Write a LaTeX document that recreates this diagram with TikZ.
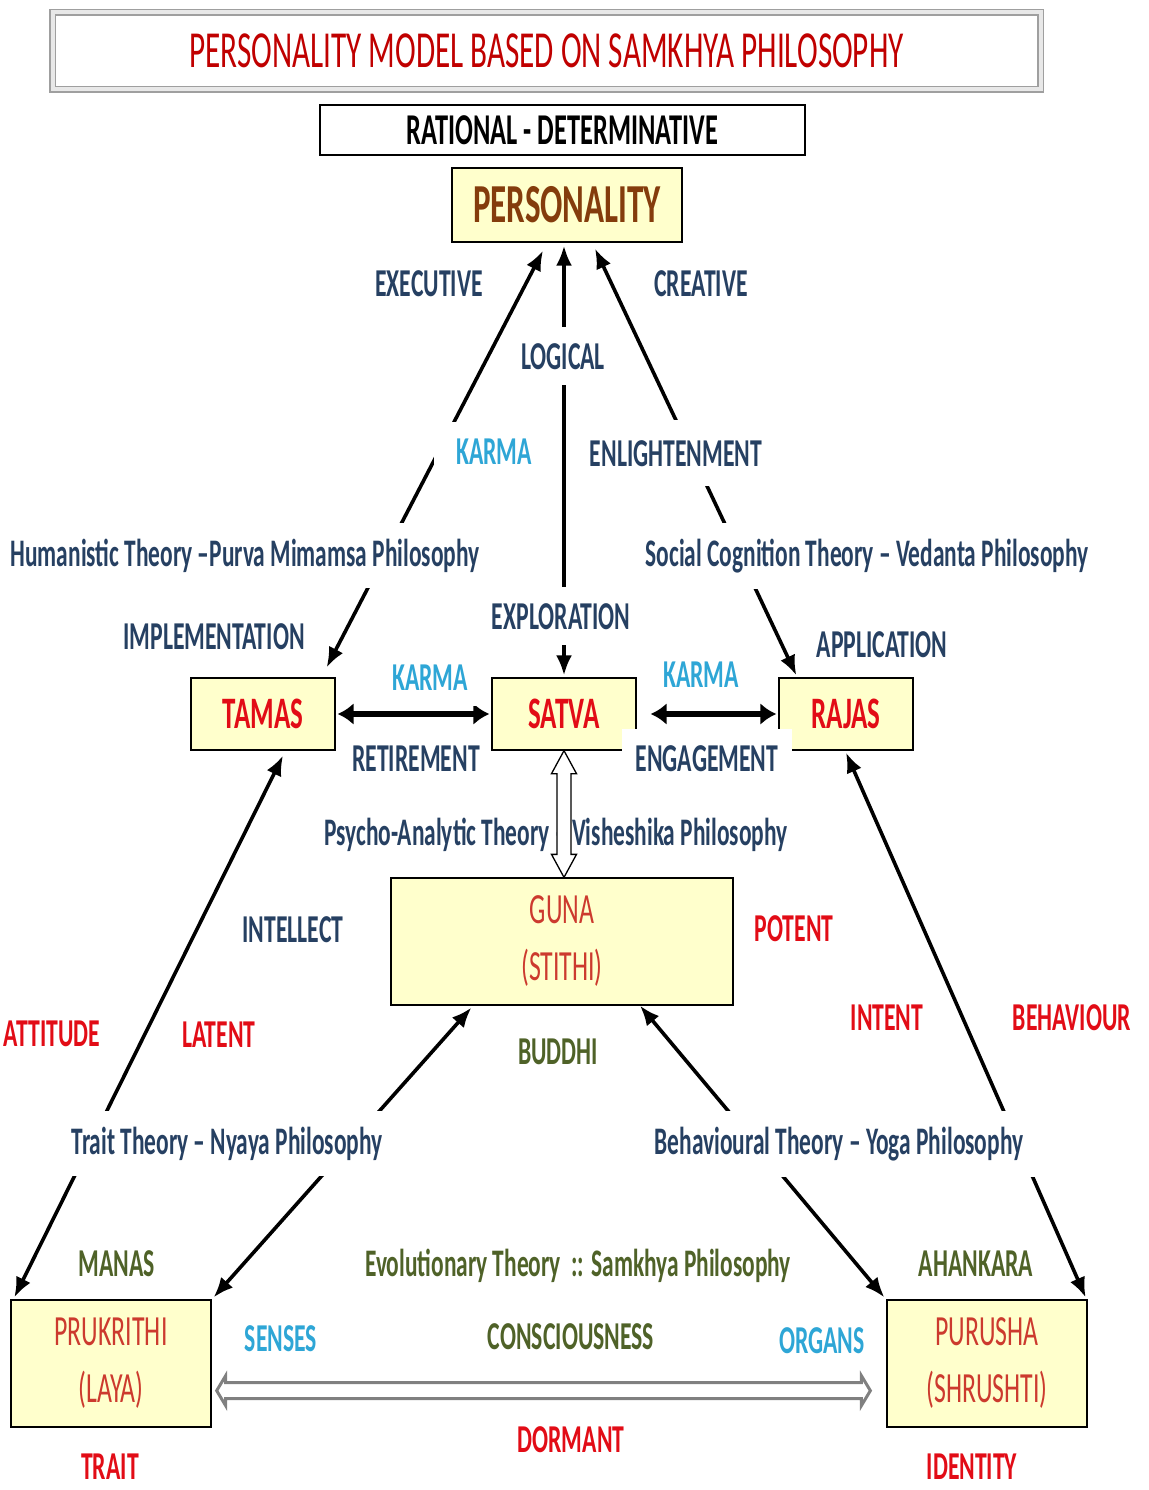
\documentclass[tikz,border=0pt]{standalone}
\usepackage{fontspec}
\setmainfont{Carlito}[FakeStretch=0.6]
\usepackage{tikz}
\usetikzlibrary{arrows.meta,positioning,backgrounds,calc}

\definecolor{titlered}{RGB}{192,0,0}
\definecolor{boxred}{RGB}{226,12,22}
\definecolor{gunared}{RGB}{204,58,46}
\definecolor{persbrown}{RGB}{132,60,12}
\definecolor{navytxt}{RGB}{38,64,98}
\definecolor{karmacyan}{RGB}{46,166,214}
\definecolor{olivetxt}{RGB}{79,98,40}
\definecolor{boxfill}{RGB}{255,255,204}

\begin{document}
\begin{tikzpicture}[x=1pt, y=-1pt,
	box/.style={draw, line width=1.3pt, fill=boxfill, inner sep=0pt, align=center},
	lbl/.style={fill=white, anchor=base, inner xsep=14pt, inner ysep=16pt, font=\fontsize{39.5}{46}\selectfont\bfseries},
	theory/.style={lbl, font=\fontsize{39}{44}\selectfont\bfseries},
	link/.style={line width=3.6pt, {Latex[length=20pt,width=16pt]}-{Latex[length=20pt,width=16pt]}},
	barlink/.style={line width=5.5pt, {Latex[length=16pt,width=22pt]}-{Latex[length=16pt,width=22pt]}},
	hollow/.style={line width=1.3pt, fill=white, line join=miter}]

	\useasboundingbox (0,0) rectangle (1148,1490);
	\clip (0,0) rectangle (1148,1490);

	% labels
	\node[lbl, text=navytxt] (lexec) at (429,296) {EXECUTIVE};
	\node[lbl, text=navytxt] (lcreat) at (701,296) {CREATIVE};
	\node[lbl, text=navytxt] (llogic) at (563,369) {LOGICAL};
	\node[lbl, text=karmacyan, inner xsep=22pt] (lkarmatop) at (494,464) {KARMA};
	\node[lbl, text=navytxt, inner ysep=20pt] (lenlight) at (676,466) {ENLIGHTENMENT};
	\node[theory, text=navytxt] (lhuman) at (245,566) {Humanistic Theory –Purva Mimamsa Philosophy};
	\node[theory, text=navytxt] (lsocial) at (867,566) {Social Cognition Theory – Vedanta Philosophy};
	\node[lbl, text=navytxt] (limpl) at (214,649) {IMPLEMENTATION};
	\node[lbl, text=navytxt] (lexplo) at (561,629) {EXPLORATION};
	\node[lbl, text=navytxt] (lappl) at (882,657) {APPLICATION};
	\node[lbl, text=karmacyan] (lkarmal) at (430,690) {KARMA};
	\node[lbl, text=karmacyan] (lkarmar) at (701,687) {KARMA};
	\node[lbl, text=navytxt] (lretire) at (416,771) {RETIREMENT};
	\node[theory, text=navytxt] (lpsycho) at (556,845) {Psycho-Analytic Theory – Visheshika Philosophy};
	\node[lbl, text=navytxt] (lintel) at (293,942) {INTELLECT};
	\node[lbl, text=boxred] (lpotent) at (794,941) {POTENT};
	\node[lbl, text=boxred, inner xsep=2pt] (lattit) at (52,1046) {ATTITUDE};
	\node[lbl, text=boxred] (llatent) at (219,1047) {LATENT};
	\node[lbl, text=boxred] (lintent) at (887,1030) {INTENT};
	\node[lbl, text=boxred] (lbehav) at (1072,1030) {BEHAVIOUR};
	\node[lbl, text=olivetxt] (lbuddhi) at (558,1064) {BUDDHI};
	\node[theory, text=navytxt] (ltrait) at (227,1154) {Trait Theory – Nyaya Philosophy};
	\node[theory, text=navytxt] (lbehth) at (839,1154) {Behavioural Theory – Yoga Philosophy};
	\node[lbl, text=olivetxt] (lmanas) at (117,1276) {MANAS};
	\node[theory, text=olivetxt] (levol) at (578,1276) {Evolutionary Theory \ :: Samkhya Philosophy};
	\node[lbl, text=olivetxt] (lahank) at (976,1276) {AHANKARA};
	\node[lbl, text=karmacyan] (lsenses) at (281,1351) {SENSES};
	\node[lbl, text=olivetxt] (lconsc) at (571,1349) {CONSCIOUSNESS};
	\node[lbl, text=karmacyan] (lorgans) at (822,1353) {ORGANS};
	\node[lbl, text=boxred] (ldormant) at (571,1452) {DORMANT};
	\node[lbl, text=boxred, inner ysep=1pt] (ltrait2) at (110,1479) {TRAIT};
	\node[lbl, text=boxred, inner ysep=1pt] (lident) at (972,1479) {IDENTITY};

	% boxes
	\node[box, draw=gray!75, double=gray!18, double distance=4pt, line width=1.4pt, fill=white, minimum width=988pt, minimum height=77pt, font=\fontsize{52}{58}\selectfont, text=titlered] (title) at (546.5,51) {PERSONALITY MODEL BASED ON SAMKHYA PHILOSOPHY};
	\node[box, fill=white, minimum width=485pt, minimum height=50pt, font=\fontsize{44}{50}\selectfont\bfseries] (rat) at (562.5,130) {RATIONAL - DETERMINATIVE};
	\node[box, minimum width=230pt, minimum height=74pt, font=\fontsize{55}{60}\selectfont\bfseries, text=persbrown] (pers) at (567,205) {PERSONALITY};
	\node[box, minimum width=144pt, minimum height=72pt, font=\fontsize{45}{52}\selectfont\bfseries, text=boxred] (tamas) at (263,714) {TAMAS};
	\node[box, minimum width=144pt, minimum height=72pt, font=\fontsize{45}{52}\selectfont\bfseries, text=boxred] (satva) at (564,714) {SATVA};
	\node[box, minimum width=134pt, minimum height=72pt, font=\fontsize{45}{52}\selectfont\bfseries, text=boxred] (rajas) at (846,714) {RAJAS};
	\node[box, minimum width=342pt, minimum height=127pt, font=\fontsize{43}{57}\selectfont, text=gunared] (guna) at (562,941.5) {\rule{0pt}{10pt}GUNA\\(STITHI)};
	\node[box, minimum width=200pt, minimum height=127pt, font=\fontsize{43}{57}\selectfont, text=gunared] (prak) at (111,1363.5) {\rule{0pt}{10pt}PRUKRITHI\\(LAYA)};
	\node[box, minimum width=200pt, minimum height=127pt, font=\fontsize{43}{57}\selectfont, text=gunared] (puru) at (987,1363.5) {\rule{0pt}{10pt}PURUSHA\\(SHRUSHTI)};
	\node[lbl, text=navytxt, anchor=center, minimum width=170pt, minimum height=60pt] (lengage) at (707,759) {ENGAGEMENT};

	% connectors
	\begin{scope}[on background layer]
		\draw[link] ($(tamas.north east)+(-9,-10)$) -- ($(pers.south)+(-24,8)$);
		\draw[link] ($(satva.north)+(0,-2)$) -- ($(satva.north |- pers.south)+(0,3)$);
		\draw[link] ($(pers.south)+(28,6)$) -- ($(rajas.north west)+(18,-2)$);
		\draw[barlink] ($(tamas.east)+(2,0)$) -- ($(satva.west)+(-2,0)$);
		\draw[barlink] ($(satva.east)+(14,0)$) -- ($(rajas.west)+(-2,0)$);
		\draw[link] ($(tamas.south)+(20,5)$) -- ($(prak.north west)+(4,-2)$);
		\draw[link] ($(guna.south west)+(81,2)$) -- ($(prak.north east)+(2,-2)$);
		\draw[link] ($(guna.south)+(78,0)$) -- ($(puru.north west)+(-2,-2)$);
		\draw[link] ($(rajas.south)+(0,2)$) -- ($(puru.north east)+(-2,-2)$);
	\end{scope}

	\coordinate (gtip) at (satva.south |- guna.north);
	\draw[hollow] (satva.south) -- ++(12.5,23) -- ++(-5.5,0) -- ($(gtip)+(7,-23)$) -- ++(5.5,0) -- (gtip)
		-- ++(-12.5,-23) -- ++(5.5,0) -- ($(satva.south)+(-7,23)$) -- ++(-5.5,0) -- cycle;

	\coordinate (lt) at ($(prak.south east)+(5,-37)$);
	\coordinate (rt) at ($(puru.south west)+(-16,-37)$);
	\draw[hollow, draw=gray, line width=3pt] (lt) -- ++(9,-15) -- ++(0,7) -- ($(rt)+(-9,-8)$) -- ++(0,-7) -- (rt)
		-- ++(-9,15) -- ++(0,-7) -- ($(lt)+(9,8)$) -- ++(0,7) -- cycle;

\end{tikzpicture}
\end{document}
